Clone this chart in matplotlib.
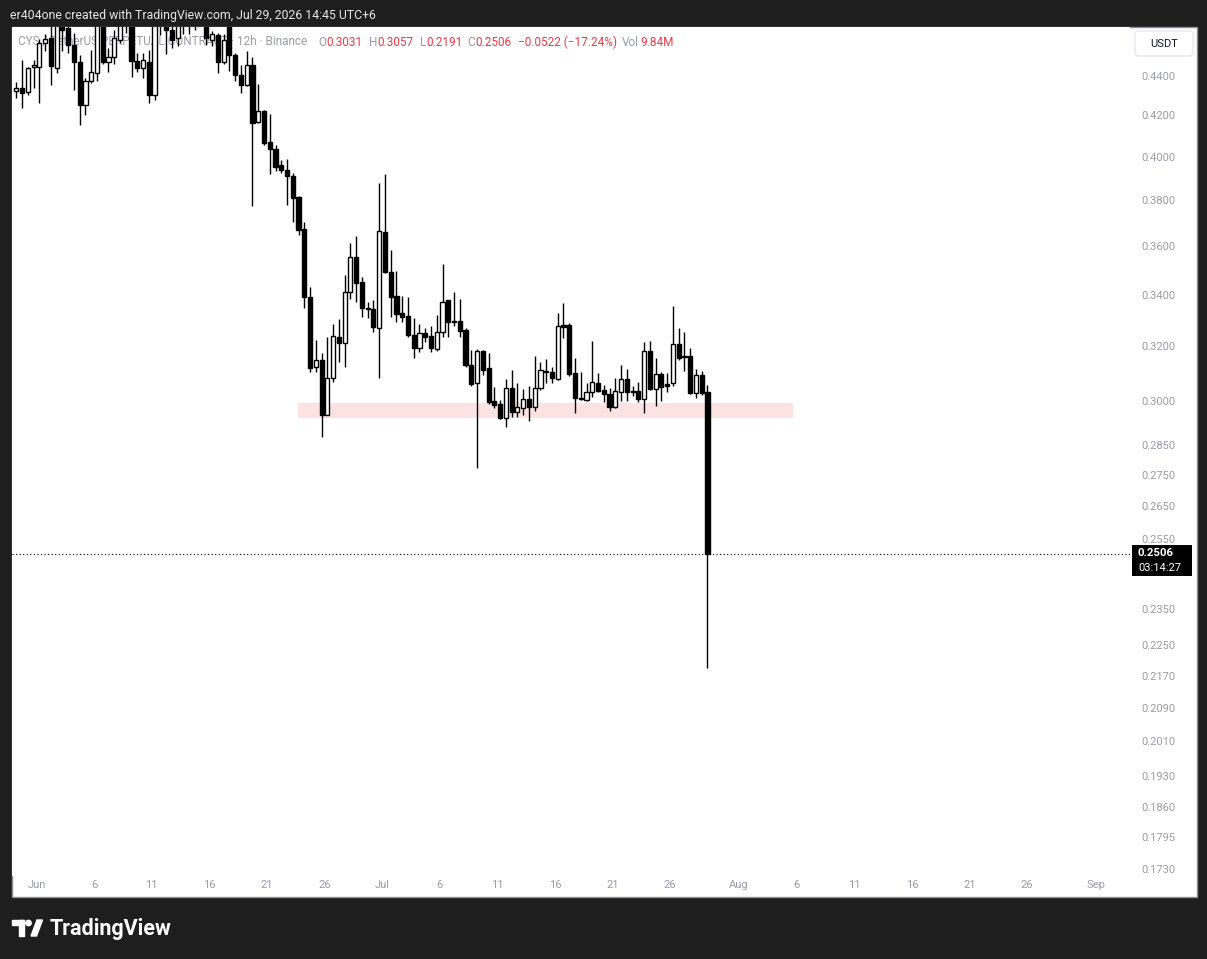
import matplotlib
matplotlib.use('Agg')
import matplotlib.pyplot as plt
import matplotlib.dates as mdates
from matplotlib.patches import Rectangle, FancyBboxPatch, Circle, Polygon
from matplotlib.ticker import NullLocator
import numpy as np
import pandas as pd

# CYS / USDT perpetual, 12h candles
opens = [0.4322, 0.4338, 0.4315, 0.4445, 0.4448, 0.4574, 0.4602, 0.4442, 0.4689, 0.4656,
         0.4563, 0.4473, 0.4252, 0.4374, 0.4416, 0.4672, 0.4473, 0.4499, 0.4590, 0.4678,
         0.4711, 0.4478, 0.4442, 0.4473, 0.4302, 0.4689, 0.4711, 0.4645, 0.4602, 0.4678,
         0.4700, 0.4678, 0.4700, 0.4733, 0.4590, 0.4618, 0.4473, 0.4672, 0.4510, 0.4405,
         0.4353, 0.4457, 0.4168, 0.4222, 0.4070, 0.4037, 0.3962, 0.3939, 0.3911, 0.3816,
         0.3675, 0.3392, 0.3123, 0.3149, 0.2952, 0.3083, 0.3235, 0.3213, 0.3412, 0.3555,
         0.3452, 0.3344, 0.3344, 0.3270, 0.3661, 0.3493, 0.3396, 0.3328, 0.3316, 0.3243,
         0.3194, 0.3251, 0.3239, 0.3190, 0.3254, 0.3380, 0.3297, 0.3297, 0.3262, 0.3131,
         0.3065, 0.3183, 0.3120, 0.3001, 0.2990, 0.2941, 0.3047, 0.2962, 0.2976, 0.3008,
         0.2980, 0.3047, 0.3105, 0.3105, 0.3079, 0.3281, 0.3281, 0.3101, 0.3012, 0.3004,
         0.3033, 0.3065, 0.3040, 0.3026, 0.2980, 0.3033, 0.3079, 0.3036, 0.3036, 0.3008,
         0.3183, 0.3044, 0.3098, 0.3061, 0.3065, 0.3209, 0.3164, 0.3164, 0.3029, 0.3094,
         0.3031]
highs = [0.4369, 0.4484, 0.4448, 0.4484, 0.4598, 0.4623, 0.4700, 0.4744, 0.4744, 0.4711,
         0.4629, 0.4510, 0.4390, 0.4536, 0.4727, 0.4711, 0.4547, 0.4645, 0.4727, 0.4755,
         0.4755, 0.4520, 0.4520, 0.4536, 0.4727, 0.4767, 0.4767, 0.4689, 0.4727, 0.4755,
         0.4744, 0.4755, 0.4784, 0.4784, 0.4640, 0.4629, 0.4623, 0.4711, 0.4520, 0.4457,
         0.4531, 0.4499, 0.4359, 0.4227, 0.4207, 0.4056, 0.3986, 0.3990, 0.3925, 0.3821,
         0.3705, 0.3432, 0.3224, 0.3175, 0.3235, 0.3285, 0.3305, 0.3481, 0.3614, 0.3644,
         0.3472, 0.3372, 0.3380, 0.3879, 0.3921, 0.3585, 0.3497, 0.3396, 0.3392, 0.3309,
         0.3285, 0.3270, 0.3277, 0.3320, 0.3526, 0.3380, 0.3412, 0.3384, 0.3270, 0.3187,
         0.3190, 0.3187, 0.3175, 0.3051, 0.3004, 0.3079, 0.3112, 0.3065, 0.3044, 0.3054,
         0.3164, 0.3142, 0.3153, 0.3123, 0.3328, 0.3368, 0.3289, 0.3157, 0.3105, 0.3065,
         0.3220, 0.3101, 0.3058, 0.3047, 0.3083, 0.3131, 0.3116, 0.3054, 0.3069, 0.3216,
         0.3220, 0.3157, 0.3105, 0.3101, 0.3356, 0.3270, 0.3254, 0.3194, 0.3116, 0.3109,
         0.3057]
lows = [0.4287, 0.4238, 0.4302, 0.4336, 0.4260, 0.4531, 0.4353, 0.4416, 0.4531, 0.4520,
        0.4328, 0.4153, 0.4202, 0.4364, 0.4374, 0.4463, 0.4421, 0.4463, 0.4574, 0.4629,
        0.4395, 0.4421, 0.4390, 0.4262, 0.4277, 0.4618, 0.4515, 0.4547, 0.4558, 0.4623,
        0.4623, 0.4645, 0.4672, 0.4563, 0.4558, 0.4416, 0.4463, 0.4426, 0.4374, 0.4312,
        0.4348, 0.3776, 0.4163, 0.4056, 0.3921, 0.3934, 0.3925, 0.3780, 0.3705, 0.3648,
        0.3348, 0.3105, 0.3105, 0.2876, 0.2950, 0.3069, 0.3142, 0.3123, 0.3384, 0.3372,
        0.3312, 0.3309, 0.3254, 0.3083, 0.3489, 0.3312, 0.3293, 0.3293, 0.3235, 0.3157,
        0.3179, 0.3216, 0.3179, 0.3183, 0.3235, 0.3235, 0.3277, 0.3235, 0.3123, 0.3054,
        0.2774, 0.3094, 0.2990, 0.2976, 0.2938, 0.2910, 0.2945, 0.2945, 0.2952, 0.2931,
        0.2966, 0.3040, 0.3065, 0.3065, 0.3076, 0.3232, 0.3090, 0.2959, 0.3004, 0.3001,
        0.3015, 0.3033, 0.2997, 0.2966, 0.2976, 0.3001, 0.3001, 0.3019, 0.2997, 0.2959,
        0.3040, 0.2983, 0.3001, 0.3033, 0.3054, 0.3149, 0.3109, 0.3026, 0.3012, 0.3022,
        0.2191]
closes = [0.4338, 0.4314, 0.4440, 0.4457, 0.4572, 0.4595, 0.4452, 0.4689, 0.4645, 0.4563,
          0.4473, 0.4252, 0.4374, 0.4421, 0.4672, 0.4473, 0.4499, 0.4602, 0.4678, 0.4711,
          0.4478, 0.4442, 0.4484, 0.4302, 0.4689, 0.4711, 0.4645, 0.4590, 0.4672, 0.4700,
          0.4678, 0.4700, 0.4733, 0.4602, 0.4623, 0.4473, 0.4590, 0.4510, 0.4405, 0.4353,
          0.4457, 0.4163, 0.4222, 0.4065, 0.4037, 0.3953, 0.3939, 0.3911, 0.3812, 0.3670,
          0.3392, 0.3120, 0.3149, 0.2952, 0.3083, 0.3239, 0.3213, 0.3412, 0.3555, 0.3448,
          0.3348, 0.3348, 0.3274, 0.3666, 0.3493, 0.3392, 0.3324, 0.3312, 0.3243, 0.3194,
          0.3251, 0.3235, 0.3194, 0.3254, 0.3372, 0.3293, 0.3293, 0.3258, 0.3131, 0.3061,
          0.3183, 0.3112, 0.2997, 0.2987, 0.2941, 0.3047, 0.2962, 0.2980, 0.3008, 0.2980,
          0.3047, 0.3112, 0.3109, 0.3083, 0.3277, 0.3274, 0.3098, 0.3012, 0.3008, 0.3033,
          0.3069, 0.3036, 0.3026, 0.2980, 0.3036, 0.3079, 0.3033, 0.3033, 0.3008, 0.3183,
          0.3044, 0.3098, 0.3051, 0.3054, 0.3209, 0.3157, 0.3160, 0.3029, 0.3094, 0.3029,
          0.2506]
times = pd.date_range('2026-05-30 06:00', periods=len(opens), freq='12h')

price_ticks = [0.4400, 0.4200, 0.4000, 0.3800, 0.3600, 0.3400, 0.3200, 0.3000, 0.2850,
               0.2750, 0.2650, 0.2550, 0.2350, 0.2250, 0.2170, 0.2090, 0.2010, 0.1930,
               0.1860, 0.1795, 0.1730]
time_ticks = ['2026-06-01', '2026-06-06', '2026-06-11', '2026-06-16', '2026-06-21', '2026-06-26',
              '2026-07-01', '2026-07-06', '2026-07-11', '2026-07-16', '2026-07-21', '2026-07-26',
              '2026-08-01', '2026-08-06', '2026-08-11', '2026-08-16', '2026-08-21', '2026-08-26',
              '2026-09-01']
time_labels = ['Jun', '6', '11', '16', '21', '26', 'Jul', '6', '11', '16', '21', '26',
               'Aug', '6', '11', '16', '21', '26', 'Sep']

zone_start, zone_end = '2026-06-23 17:00', '2026-08-05 16:00'
zone_low, zone_high = 0.2941, 0.2994
last_price = 0.2506
countdown = '03:14:27'

W, H = 1207, 959
BG = '#1e1e1e'
GRAY = '#9a9ca3'
RED = '#f23645'
FONT = ['Roboto', 'DejaVu Sans']
plt.rcParams['font.family'] = FONT

fig = plt.figure(figsize=(W / 100, H / 100), dpi=100, facecolor=BG)
inch = fig.dpi_scale_trans


def P(px, py):
    # pixel (top-left origin) -> inches for dpi_scale_trans
    return px / 100, (H - py) / 100


# white chart panel
x0, y0 = P(12, 897)
fig.add_artist(Rectangle((x0, y0), (1197 - 12) / 100, (897 - 27) / 100, transform=inch,
                         facecolor='white', edgecolor='#8c8c8c', lw=1, zorder=-1))

ax = fig.add_axes([12 / W, 1 - 876 / H, (1130 - 12) / W, (876 - 27) / H])
ax.set_facecolor('white')
for s in ax.spines.values():
    s.set_visible(False)

t = mdates.date2num(times)
o, hi, lo, c = map(np.array, (opens, highs, lows, closes))
up = c >= o
ax.vlines(t, lo, hi, color='black', lw=1.0, zorder=3)
ax.bar(t, np.maximum(o, c) - np.minimum(o, c), bottom=np.minimum(o, c), width=0.36,
       color=np.where(up, 'white', 'black'), edgecolor='black', linewidth=1.0, zorder=4)

zs, ze = mdates.date2num(pd.Timestamp(zone_start)), mdates.date2num(pd.Timestamp(zone_end))
ax.add_patch(Rectangle((zs, zone_low), ze - zs, zone_high - zone_low,
                       facecolor='#fde2e2', edgecolor='none', zorder=1))

ax.axhline(last_price, color='black', lw=0.8, ls=(0, (1, 2.2)), zorder=2)

ax.set_yscale('log')
ax.set_ylim(0.1715, 0.4661)
ax.set_xlim(mdates.date2num(pd.Timestamp('2026-05-29 21:00')),
            mdates.date2num(pd.Timestamp('2026-09-03 22:20')))

ax.yaxis.tick_right()
ax.set_yticks(price_ticks)
ax.set_yticklabels([f'{v:.4f}' for v in price_ticks])
ax.yaxis.set_minor_locator(NullLocator())
ax.tick_params(axis='y', length=0, pad=8, labelsize=8, labelcolor=GRAY)
ax.set_xticks(mdates.date2num(pd.to_datetime(time_ticks)))
ax.set_xticklabels(time_labels)
ax.xaxis.set_minor_locator(NullLocator())
ax.tick_params(axis='x', length=0, pad=3, labelsize=8, labelcolor=GRAY)

# header
fig.text(10 / W, 1 - 15 / H, 'er404one created with TradingView.com, Jul 29, 2026 14:45 UTC+6',
         color='#e6e6e6', fontsize=8.8, va='center', ha='left')

# legend line (behind candles)
legend_y = 1 - 42 / H
pieces = [(18, 'CYS / TetherUS PERPETUAL CONTRACT · 12h · Binance', GRAY),
          (318, 'O', GRAY), (326, '0.3031', RED),
          (369, 'H', GRAY), (377, '0.3057', RED),
          (420, 'L', GRAY), (426, '0.2191', RED),
          (467, 'C', GRAY), (475, '0.2506', RED),
          (518, '\u22120.0522 (\u221217.24%)', RED),
          (622, 'Vol', GRAY), (640, '9.84M', RED)]
for px, s, col in pieces:
    ax.text(px / W, legend_y, s, transform=fig.transFigure, color=col, fontsize=8.5,
            va='center', ha='left', zorder=2)

# currency box
bx, by = P(1135, 56)
fig.add_artist(FancyBboxPatch((bx, by), 0.58, 0.25, boxstyle='round,pad=0,rounding_size=0.03',
                              transform=inch, facecolor='white', edgecolor='#e0e3eb', lw=0.8))
fig.text(1164 / W, 1 - 44 / H, 'USDT', color='#131722', fontsize=8, ha='center', va='center')

# last price label
lx, ly = P(1132, 576)
fig.add_artist(Rectangle((lx, ly), 0.60, 0.31, transform=inch, facecolor='black',
                         edgecolor='none', zorder=5))
fig.text(1138 / W, 1 - 553 / H, f'{last_price:.4f}', color='white', fontsize=8.2,
         fontweight='bold', va='center', ha='left', zorder=6)
fig.text(1138 / W, 1 - 568 / H, countdown, color='white', fontsize=8,
         va='center', ha='left', zorder=6)

# TradingView logo
fig.add_artist(Rectangle(P(12, 925), 0.12, 0.05, transform=inch, color='white'))
fig.add_artist(Rectangle(P(19, 936), 0.05, 0.16, transform=inch, color='white'))
fig.add_artist(Circle(P(28.5, 923), 0.027, transform=inch, color='white'))
fig.add_artist(Polygon([P(31, 936), P(36.5, 936), P(42.5, 920), P(37, 920)], closed=True,
                       transform=inch, color='white'))
fig.text(50 / W, 1 - 929 / H, 'TradingView', color='white', fontsize=15.5, fontweight='bold',
         va='center', ha='left')

fig.savefig('out.png', dpi=100, facecolor=BG)
